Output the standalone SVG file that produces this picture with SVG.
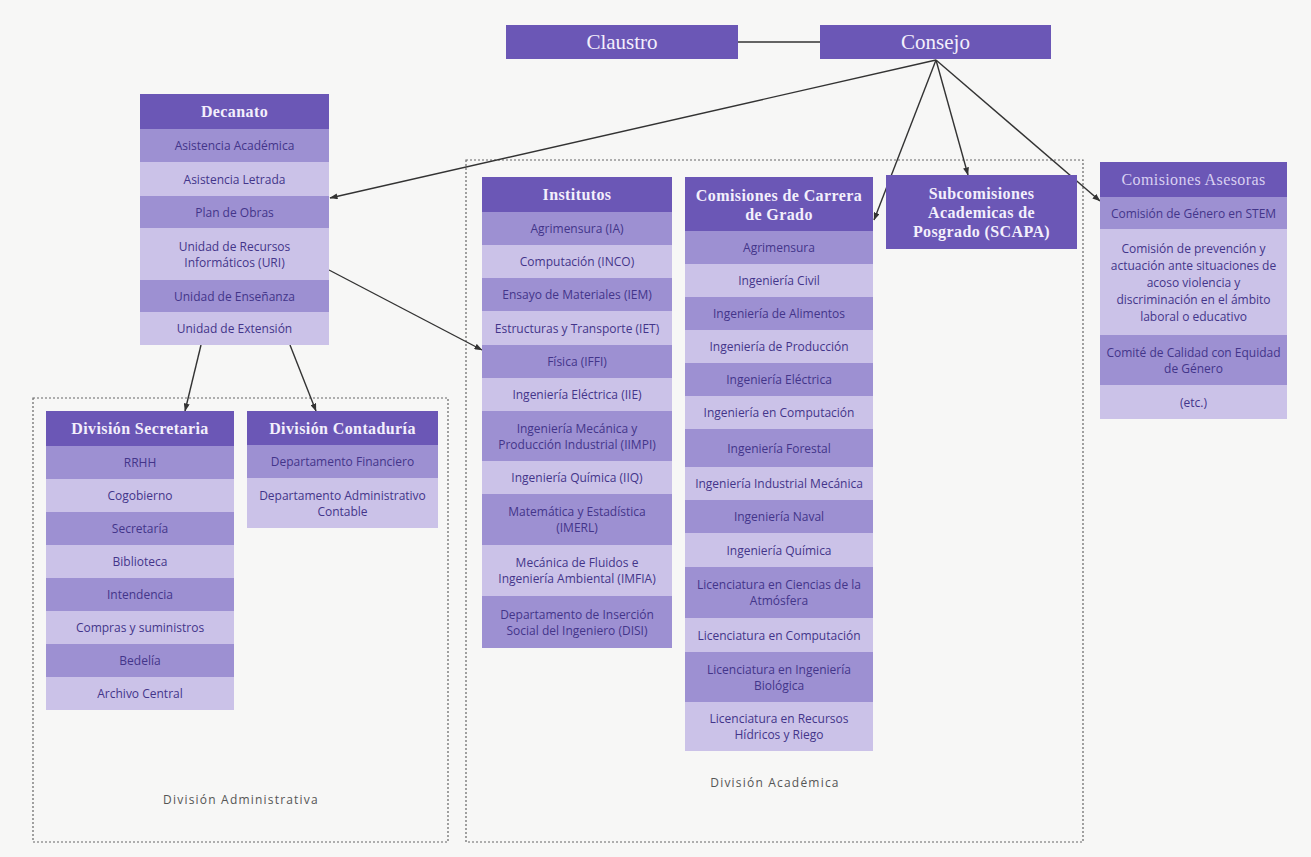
<svg xmlns="http://www.w3.org/2000/svg" width="1311" height="857" viewBox="0 0 1311 857">
  <defs>
    <marker id="arrow" viewBox="0 0 8 6" refX="7.5" refY="3" markerWidth="8" markerHeight="6" markerUnits="userSpaceOnUse" orient="auto">
      <path d="M0,0 L8,3 L0,6 z" fill="#333"/>
    </marker>
    <style>
      .hd { fill: #6b57b6; }
      .md { fill: #9d90d2; }
      .lt { fill: #cbc2e8; }
      .ht { font-family: "Liberation Serif", "DejaVu Serif", serif; font-size: 16px; font-weight: bold; letter-spacing: 0.4px; fill: #f3effc; text-anchor: middle; dominant-baseline: central; }
      .big { font-size: 21px; font-weight: normal; letter-spacing: 0; }
      .rt { font-family: "Open Sans", "Liberation Sans", sans-serif; font-size: 12px; fill: #43358a; text-anchor: middle; dominant-baseline: central; }
      .lbl { font-family: "Open Sans", "Liberation Sans", sans-serif; font-size: 12px; fill: #555; letter-spacing: 1.2px; text-anchor: middle; }
      .zone { fill: none; stroke: #666; stroke-width: 1.2; stroke-dasharray: 2 2; }
      .edge { fill: none; stroke: #333; stroke-width: 1.4; }
    </style>
  </defs>

  <rect x="0" y="0" width="1311" height="857" fill="#f7f7f6"/>

  <!-- division zones -->
  <g id="zone-administrativa">
    <rect class="zone" x="33" y="398" width="415" height="444"/>
    <text class="lbl" x="241" y="804">División Administrativa</text>
  </g>
  <g id="zone-academica">
    <rect class="zone" x="466" y="160" width="617" height="682"/>
    <text class="lbl" x="775" y="787">División Académica</text>
  </g>

  <!-- connectors -->
  <g id="connectors">
    <line class="edge" x1="738" y1="42" x2="820" y2="42"/>
    <line class="edge" x1="936" y1="60" x2="330" y2="198" marker-end="url(#arrow)"/>
    <line class="edge" x1="936" y1="60" x2="874" y2="220" marker-end="url(#arrow)"/>
    <line class="edge" x1="936" y1="60" x2="968" y2="175" marker-end="url(#arrow)"/>
    <line class="edge" x1="936" y1="60" x2="1100" y2="201" marker-end="url(#arrow)"/>
    <line class="edge" x1="329" y1="270" x2="482" y2="350" marker-end="url(#arrow)"/>
    <line class="edge" x1="201" y1="345" x2="185" y2="411" marker-end="url(#arrow)"/>
    <line class="edge" x1="290" y1="345" x2="316" y2="411" marker-end="url(#arrow)"/>
  </g>

  <!-- top governing bodies -->
  <g id="claustro">
    <rect class="hd" x="506" y="25" width="232" height="34"/>
    <text class="ht big" x="622" y="42">Claustro</text>
  </g>
  <g id="consejo">
    <rect class="hd" x="820" y="25" width="231" height="34"/>
    <text class="ht big" x="935.5" y="42">Consejo</text>
  </g>

  <!-- Decanato -->
  <g id="decanato">
    <rect class="hd" x="140" y="94" width="189" height="35"/>
    <text class="ht" x="234.5" y="111.5">Decanato</text>
    <rect class="md" x="140" y="129" width="189" height="33"/>
    <text class="rt" x="234.5" y="145.5">Asistencia Académica</text>
    <rect class="lt" x="140" y="162" width="189" height="34"/>
    <text class="rt" x="234.5" y="179">Asistencia Letrada</text>
    <rect class="md" x="140" y="196" width="189" height="32"/>
    <text class="rt" x="234.5" y="212">Plan de Obras</text>
    <rect class="lt" x="140" y="228" width="189" height="52"/>
    <text class="rt" x="234.5" y="246">Unidad de Recursos</text>
    <text class="rt" x="234.5" y="262">Informáticos (URI)</text>
    <rect class="md" x="140" y="280" width="189" height="32"/>
    <text class="rt" x="234.5" y="296">Unidad de Enseñanza</text>
    <rect class="lt" x="140" y="312" width="189" height="33"/>
    <text class="rt" x="234.5" y="328.5">Unidad de Extensión</text>
  </g>

  <!-- División Secretaría -->
  <g id="division-secretaria">
    <rect class="hd" x="46" y="411" width="188" height="35"/>
    <text class="ht" x="140" y="428.5">División Secretaria</text>
    <rect class="md" x="46" y="446" width="188" height="33"/>
    <text class="rt" x="140" y="462.5">RRHH</text>
    <rect class="lt" x="46" y="479" width="188" height="33"/>
    <text class="rt" x="140" y="495.5">Cogobierno</text>
    <rect class="md" x="46" y="512" width="188" height="33"/>
    <text class="rt" x="140" y="528.5">Secretaría</text>
    <rect class="lt" x="46" y="545" width="188" height="33"/>
    <text class="rt" x="140" y="561.5">Biblioteca</text>
    <rect class="md" x="46" y="578" width="188" height="33"/>
    <text class="rt" x="140" y="594.5">Intendencia</text>
    <rect class="lt" x="46" y="611" width="188" height="33"/>
    <text class="rt" x="140" y="627.5">Compras y suministros</text>
    <rect class="md" x="46" y="644" width="188" height="33"/>
    <text class="rt" x="140" y="660.5">Bedelía</text>
    <rect class="lt" x="46" y="677" width="188" height="33"/>
    <text class="rt" x="140" y="693.5">Archivo Central</text>
  </g>

  <!-- División Contaduría -->
  <g id="division-contaduria">
    <rect class="hd" x="247" y="411" width="191" height="34"/>
    <text class="ht" x="342.5" y="428">División Contaduría</text>
    <rect class="md" x="247" y="445" width="191" height="33"/>
    <text class="rt" x="342.5" y="461.5">Departamento Financiero</text>
    <rect class="lt" x="247" y="478" width="191" height="50"/>
    <text class="rt" x="342.5" y="495">Departamento Administrativo</text>
    <text class="rt" x="342.5" y="511">Contable</text>
  </g>

  <!-- Institutos -->
  <g id="institutos">
    <rect class="hd" x="482" y="177" width="190" height="35"/>
    <text class="ht" x="577" y="194.5">Institutos</text>
    <rect class="md" x="482" y="212" width="190" height="33"/>
    <text class="rt" x="577" y="228.5">Agrimensura (IA)</text>
    <rect class="lt" x="482" y="245" width="190" height="33"/>
    <text class="rt" x="577" y="261.5">Computación (INCO)</text>
    <rect class="md" x="482" y="278" width="190" height="33"/>
    <text class="rt" x="577" y="294.5">Ensayo de Materiales (IEM)</text>
    <rect class="lt" x="482" y="311" width="190" height="34"/>
    <text class="rt" x="577" y="328">Estructuras y Transporte (IET)</text>
    <rect class="md" x="482" y="345" width="190" height="33"/>
    <text class="rt" x="577" y="361.5">Física (IFFI)</text>
    <rect class="lt" x="482" y="378" width="190" height="33"/>
    <text class="rt" x="577" y="394.5">Ingeniería Eléctrica (IIE)</text>
    <rect class="md" x="482" y="411" width="190" height="50"/>
    <text class="rt" x="577" y="428">Ingeniería Mecánica y</text>
    <text class="rt" x="577" y="444">Producción Industrial (IIMPI)</text>
    <rect class="lt" x="482" y="461" width="190" height="33"/>
    <text class="rt" x="577" y="477.5">Ingeniería Química (IIQ)</text>
    <rect class="md" x="482" y="494" width="190" height="51"/>
    <text class="rt" x="577" y="511.5">Matemática y Estadística</text>
    <text class="rt" x="577" y="527.5">(IMERL)</text>
    <rect class="lt" x="482" y="545" width="190" height="51"/>
    <text class="rt" x="577" y="562.5">Mecánica de Fluidos e</text>
    <text class="rt" x="577" y="578.5">Ingeniería Ambiental (IMFIA)</text>
    <rect class="md" x="482" y="596" width="190" height="52"/>
    <text class="rt" x="577" y="614">Departamento de Inserción</text>
    <text class="rt" x="577" y="630">Social del Ingeniero (DISI)</text>
  </g>

  <!-- Comisiones de Carrera de Grado -->
  <g id="comisiones-carrera">
    <rect class="hd" x="685" y="177" width="188" height="54"/>
    <text class="ht" x="779" y="195">Comisiones de Carrera</text>
    <text class="ht" x="779" y="214">de Grado</text>
    <rect class="md" x="685" y="231" width="188" height="33"/>
    <text class="rt" x="779" y="247.5">Agrimensura</text>
    <rect class="lt" x="685" y="264" width="188" height="33"/>
    <text class="rt" x="779" y="280.5">Ingeniería Civil</text>
    <rect class="md" x="685" y="297" width="188" height="33"/>
    <text class="rt" x="779" y="313.5">Ingeniería de Alimentos</text>
    <rect class="lt" x="685" y="330" width="188" height="33"/>
    <text class="rt" x="779" y="346.5">Ingeniería de Producción</text>
    <rect class="md" x="685" y="363" width="188" height="33"/>
    <text class="rt" x="779" y="379.5">Ingeniería Eléctrica</text>
    <rect class="lt" x="685" y="396" width="188" height="33"/>
    <text class="rt" x="779" y="412.5">Ingeniería en Computación</text>
    <rect class="md" x="685" y="429" width="188" height="38"/>
    <text class="rt" x="779" y="448">Ingeniería Forestal</text>
    <rect class="lt" x="685" y="467" width="188" height="33"/>
    <text class="rt" x="779" y="483.5">Ingeniería Industrial Mecánica</text>
    <rect class="md" x="685" y="500" width="188" height="33"/>
    <text class="rt" x="779" y="516.5">Ingeniería Naval</text>
    <rect class="lt" x="685" y="533" width="188" height="34"/>
    <text class="rt" x="779" y="550">Ingeniería Química</text>
    <rect class="md" x="685" y="567" width="188" height="51"/>
    <text class="rt" x="779" y="584.5">Licenciatura en Ciencias de la</text>
    <text class="rt" x="779" y="600.5">Atmósfera</text>
    <rect class="lt" x="685" y="618" width="188" height="34"/>
    <text class="rt" x="779" y="635">Licenciatura en Computación</text>
    <rect class="md" x="685" y="652" width="188" height="50"/>
    <text class="rt" x="779" y="669">Licenciatura en Ingeniería</text>
    <text class="rt" x="779" y="685">Biológica</text>
    <rect class="lt" x="685" y="702" width="188" height="49"/>
    <text class="rt" x="779" y="718.5">Licenciatura en Recursos</text>
    <text class="rt" x="779" y="734.5">Hídricos y Riego</text>
  </g>

  <!-- SCAPA -->
  <g id="scapa">
    <rect class="hd" x="886" y="175" width="191" height="74"/>
    <text class="ht" x="981.5" y="193">Subcomisiones</text>
    <text class="ht" x="981.5" y="212">Academicas de</text>
    <text class="ht" x="981.5" y="231">Posgrado (SCAPA)</text>
  </g>

  <!-- Comisiones Asesoras -->
  <g id="comisiones-asesoras">
    <rect class="hd" x="1100" y="162" width="187" height="35"/>
    <text class="ht" x="1193.5" y="179.5" style="fill:#d9d0f2; font-weight:normal">Comisiones Asesoras</text>
    <rect class="md" x="1100" y="197" width="187" height="32"/>
    <text class="rt" x="1193.5" y="213">Comisión de Género en STEM</text>
    <rect class="lt" x="1100" y="229" width="187" height="106"/>
    <text class="rt" x="1193.5" y="248">Comisión de prevención y</text>
    <text class="rt" x="1193.5" y="265">actuación ante situaciones de</text>
    <text class="rt" x="1193.5" y="282">acoso violencia y</text>
    <text class="rt" x="1193.5" y="299">discriminación en el ámbito</text>
    <text class="rt" x="1193.5" y="316">laboral o educativo</text>
    <rect class="md" x="1100" y="335" width="187" height="50"/>
    <text class="rt" x="1193.5" y="352">Comité de Calidad con Equidad</text>
    <text class="rt" x="1193.5" y="368">de Género</text>
    <rect class="lt" x="1100" y="385" width="187" height="34"/>
    <text class="rt" x="1193.5" y="402">(etc.)</text>
  </g>
</svg>
